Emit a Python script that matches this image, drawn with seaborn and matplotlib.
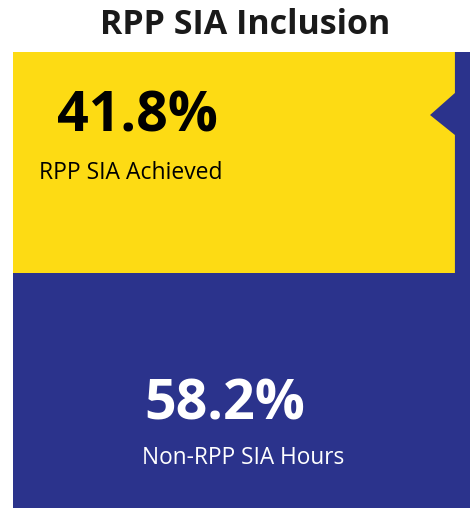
import matplotlib
matplotlib.use("Agg")
import matplotlib.pyplot as plt
import seaborn as sns
import pandas as pd
from matplotlib.patches import Polygon

sns.set_theme(style="white")
plt.rcParams['font.family'] = ['Open Sans', 'DejaVu Sans']

title = "RPP SIA Inclusion"
categories = ["RPP SIA Achieved", "Non-RPP SIA Hours"]
values = [41.8, 58.2]
value_labels = ["41.8%", "58.2%"]

YELLOW = "#FDDB14"
BLUE = "#2B338C"

W, H = 470, 508
fig = plt.figure(figsize=(W / 100, H / 100), dpi=100)
fig.patch.set_facecolor("white")

# axes region in pixels: x 13..470, y 52..508
ax = fig.add_axes([13 / W, 0, (W - 13) / W, (H - 52) / H])

total = sum(values)
df_total = pd.DataFrame({"bar": [title], "value": [total]})
df_ach = pd.DataFrame({"bar": [title], "value": [values[0]]})
sns.barplot(data=df_total, x="bar", y="value", color=BLUE, width=1.0,
            saturation=1, ax=ax, edgecolor="none", linewidth=0)
sns.barplot(data=df_ach, x="bar", y="value", color=YELLOW, width=1.0,
            saturation=1, ax=ax, edgecolor="none", linewidth=0)

yellow_frac = 221 / 456
ax.set_ylim(values[0] / yellow_frac, 0)
ax.set_xlim(-0.5, 0.5)
ax.axis("off")

# right-side blue strip with notch pointing into yellow block
yb = 1 - yellow_frac
strip = Polygon([(0.967, 1.0), (1.0, 1.0), (1.0, yb), (0.967, yb),
                 (0.967, 0.818), (0.9125, 0.8618), (0.967, 0.9101)],
                closed=True, transform=ax.transAxes, facecolor=BLUE,
                edgecolor="none")
ax.add_patch(strip)

def ft(x, y, s, **kw):
    fig.text(x / W, 1 - y / H, s, ha="center", va="baseline", **kw)

ft(245, 34, title, fontsize=24.5, fontweight="bold", color="#1a1a1a")
ft(137.5, 132, value_labels[0], fontsize=40, fontweight="bold", color="black")
ft(131, 179, categories[0], fontsize=16.5, color="black")
ft(225, 420, value_labels[1], fontsize=40, fontweight="bold", color="white")
ft(243, 464, categories[1], fontsize=16.3, color="white")

fig.savefig("out.png", dpi=100)
